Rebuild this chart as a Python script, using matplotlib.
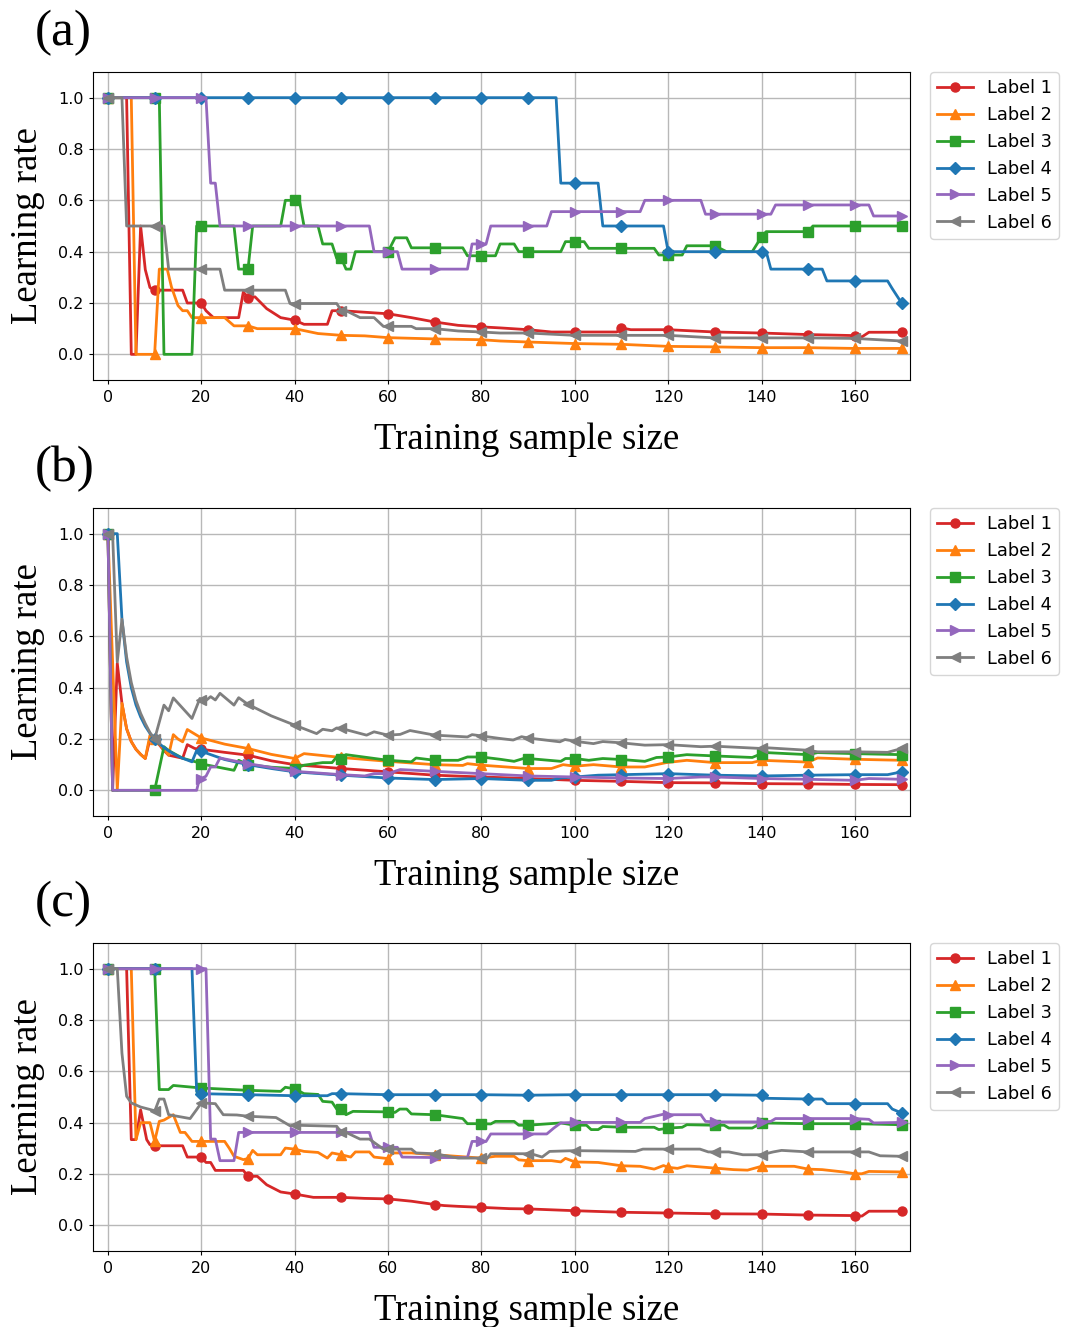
import matplotlib
matplotlib.use('Agg')
import matplotlib.pyplot as plt

# ---- data (breakpoints) ----
labels = ['Label 1', 'Label 2', 'Label 3', 'Label 4', 'Label 5', 'Label 6']

# panel (a)
a_x1 = [0, 4, 5, 6, 7, 8, 9, 10, 16, 17, 20, 21, 22.6, 28, 29, 30, 31.5, 34, 37, 40, 42, 47, 48, 50, 60, 65, 70, 75, 80, 84, 90, 95, 100, 109, 110, 112, 120, 130, 140, 150, 160, 161.5, 163, 170]
a_y1 = [1.0, 1.0, 0.0, 0.0, 0.5, 0.33, 0.26, 0.25, 0.25, 0.2, 0.2, 0.17, 0.143, 0.143, 0.243, 0.22, 0.224, 0.178, 0.143, 0.133, 0.117, 0.117, 0.17, 0.17, 0.158, 0.143, 0.126, 0.113, 0.107, 0.103, 0.096, 0.087, 0.087, 0.087, 0.103, 0.096, 0.096, 0.087, 0.083, 0.077, 0.073, 0.068, 0.086, 0.086]
a_x2 = [0, 5, 6, 10, 11, 12.7, 13.6, 15, 16, 17, 18, 20, 25, 27, 30, 32, 40, 45, 50, 55, 60, 70, 80, 84, 90, 100, 110, 120, 130, 140, 150, 160, 170]
a_y2 = [1.0, 1.0, 0.0, 0.0, 0.332, 0.332, 0.263, 0.19, 0.17, 0.17, 0.143, 0.143, 0.143, 0.111, 0.111, 0.1, 0.1, 0.081, 0.074, 0.072, 0.065, 0.06, 0.057, 0.052, 0.048, 0.042, 0.039, 0.031, 0.029, 0.026, 0.026, 0.023, 0.023]
a_x3 = [0, 10, 11, 12, 18, 19, 20, 27, 28, 30, 31, 37, 38, 40, 41, 42, 45, 46, 48, 49, 50, 51, 52, 53, 60, 61.5, 62.5, 64, 65, 70, 76, 77, 80, 83, 84, 87, 88, 90, 97, 98, 100, 102, 103, 110, 117, 118, 120, 123, 124, 130, 132.5, 138, 140, 141, 150, 151, 160, 170]
a_y3 = [1.0, 1.0, 1.0, 0.0, 0.0, 0.5, 0.5, 0.5, 0.332, 0.332, 0.5, 0.5, 0.6, 0.6, 0.6, 0.5, 0.5, 0.43, 0.43, 0.374, 0.374, 0.332, 0.332, 0.4, 0.4, 0.454, 0.454, 0.454, 0.415, 0.415, 0.415, 0.384, 0.384, 0.384, 0.43, 0.43, 0.4, 0.4, 0.4, 0.439, 0.439, 0.439, 0.413, 0.413, 0.413, 0.387, 0.387, 0.387, 0.423, 0.423, 0.4, 0.4, 0.458, 0.478, 0.478, 0.5, 0.5, 0.5]
a_x4 = [0, 10, 20, 30, 40, 50, 60, 70, 80, 90, 96, 97, 100, 105, 106, 110, 119, 120, 130, 140, 141, 142, 150, 153, 154, 160, 167, 168, 170]
a_y4 = [1.0, 1.0, 1.0, 1.0, 1.0, 1.0, 1.0, 1.0, 1.0, 1.0, 1.0, 0.667, 0.667, 0.667, 0.5, 0.5, 0.5, 0.4, 0.4, 0.4, 0.4, 0.332, 0.332, 0.332, 0.286, 0.286, 0.286, 0.256, 0.2]
a_x5 = [0, 10, 20, 21, 22, 23, 24, 30, 40, 50, 56, 57, 60, 62, 63, 70, 77, 78, 80, 81, 82, 90, 94, 95, 100, 110, 114, 115, 120, 127, 128, 130, 140, 142, 143, 150, 160, 163, 164, 170]
a_y5 = [1.0, 1.0, 1.0, 1.0, 0.667, 0.667, 0.5, 0.5, 0.5, 0.5, 0.5, 0.4, 0.4, 0.4, 0.332, 0.332, 0.332, 0.43, 0.43, 0.43, 0.5, 0.5, 0.5, 0.556, 0.556, 0.556, 0.556, 0.6, 0.6, 0.6, 0.546, 0.546, 0.546, 0.546, 0.582, 0.582, 0.582, 0.582, 0.539, 0.539]
a_x6 = [0, 3, 4, 10, 12, 13, 20, 24, 25, 30, 38, 39, 40, 49, 50, 51, 54, 57, 59, 60, 65, 66, 70, 75, 80, 84, 90, 100, 110, 120, 130, 140, 150, 160, 170]
a_y6 = [1.0, 1.0, 0.5, 0.5, 0.5, 0.332, 0.332, 0.332, 0.25, 0.25, 0.25, 0.198, 0.198, 0.198, 0.17, 0.17, 0.143, 0.143, 0.109, 0.109, 0.109, 0.1, 0.1, 0.091, 0.087, 0.083, 0.083, 0.074, 0.074, 0.074, 0.064, 0.064, 0.064, 0.062, 0.052]

# panel (b)
b_x1 = [0, 1, 2, 3, 4, 5, 6, 7, 8, 9, 10, 12, 13, 16, 17, 18.6, 20, 25, 30, 35, 40, 50, 60, 70, 80, 90, 100, 110, 120, 130, 140, 150, 160, 170]
b_y1 = [1.0, 0.0, 0.495, 0.339, 0.24, 0.19, 0.16, 0.14, 0.124, 0.2, 0.2, 0.155, 0.137, 0.125, 0.178, 0.163, 0.16, 0.148, 0.137, 0.115, 0.1, 0.085, 0.072, 0.059, 0.052, 0.046, 0.039, 0.035, 0.03, 0.029, 0.026, 0.025, 0.023, 0.022]
b_x2 = [0, 2, 3, 4, 5, 6, 7, 8, 9, 10, 11, 12, 13, 14, 15, 16, 17, 20, 25, 30, 35, 40, 42, 50, 60, 70, 76, 77, 80, 90, 95, 97.5, 100, 104, 110, 115, 119.6, 124, 130, 138, 140, 150, 152, 160, 170]
b_y2 = [1.0, 0.0, 0.339, 0.24, 0.19, 0.16, 0.14, 0.124, 0.215, 0.2, 0.18, 0.16, 0.137, 0.217, 0.2, 0.189, 0.237, 0.204, 0.18, 0.163, 0.14, 0.124, 0.143, 0.128, 0.113, 0.1, 0.097, 0.104, 0.098, 0.085, 0.085, 0.1, 0.094, 0.1, 0.091, 0.091, 0.108, 0.117, 0.108, 0.108, 0.117, 0.11, 0.126, 0.121, 0.117]
b_x3 = [0, 1, 10, 12, 13, 16, 18, 19, 20, 27, 28, 30, 35, 40, 42, 46, 48, 49, 50, 51, 60, 65, 66, 70, 75, 77, 80, 84, 87, 89, 90, 97, 98, 100, 103, 106, 110, 115, 117.5, 120, 124, 130, 138, 140, 141, 150, 152, 160, 170]
b_y3 = [1.0, 0.0, 0.0, 0.17, 0.155, 0.125, 0.115, 0.11, 0.103, 0.078, 0.117, 0.1, 0.09, 0.085, 0.098, 0.108, 0.108, 0.13, 0.121, 0.139, 0.117, 0.111, 0.126, 0.117, 0.117, 0.13, 0.13, 0.121, 0.113, 0.124, 0.124, 0.113, 0.124, 0.124, 0.117, 0.124, 0.12, 0.113, 0.128, 0.13, 0.139, 0.134, 0.128, 0.143, 0.147, 0.139, 0.147, 0.143, 0.139]
b_x4 = [0, 2, 3, 4, 5, 6, 7, 8, 9, 10, 11, 12, 13, 14, 15, 16, 17, 18, 19, 20, 25, 30, 35, 40, 50, 60, 70, 80, 90, 95, 97, 100, 105, 110, 120, 130, 140, 150, 160, 167, 170]
b_y4 = [1.0, 1.0, 0.667, 0.5, 0.4, 0.333, 0.286, 0.25, 0.222, 0.2, 0.182, 0.167, 0.154, 0.143, 0.133, 0.125, 0.118, 0.111, 0.155, 0.152, 0.12, 0.1, 0.085, 0.072, 0.059, 0.048, 0.042, 0.046, 0.039, 0.039, 0.048, 0.052, 0.059, 0.061, 0.065, 0.059, 0.056, 0.059, 0.061, 0.061, 0.072]
b_x5 = [0, 1, 19, 19.7, 20, 21, 22, 23, 24, 30, 40, 50, 55, 57, 60, 62.6, 70, 80, 90, 100, 110, 120, 127, 130, 140, 150, 160, 163, 170]
b_y5 = [1.0, 0.0, 0.0, 0.052, 0.046, 0.055, 0.091, 0.091, 0.126, 0.104, 0.074, 0.061, 0.056, 0.065, 0.065, 0.081, 0.074, 0.065, 0.056, 0.052, 0.048, 0.046, 0.052, 0.052, 0.046, 0.043, 0.039, 0.046, 0.043]
b_x6 = [0, 1, 2, 3, 4, 5, 6, 7, 8, 9, 10, 12, 13, 14, 18, 19.7, 20, 21, 22, 23, 24, 27, 28, 30, 35, 40, 44.7, 46, 48, 49, 50, 55.4, 57, 60, 62.6, 64.7, 70, 77, 78, 80, 84, 86.8, 88.6, 90, 96.8, 97.9, 100, 104, 106, 110, 115, 120, 127, 130, 140, 141, 150, 152, 160, 167, 170]
b_y6 = [1.0, 1.0, 0.5, 0.667, 0.52, 0.42, 0.35, 0.3, 0.26, 0.225, 0.2, 0.332, 0.31, 0.36, 0.28, 0.358, 0.352, 0.35, 0.365, 0.352, 0.378, 0.332, 0.361, 0.335, 0.29, 0.254, 0.221, 0.238, 0.232, 0.243, 0.241, 0.215, 0.228, 0.215, 0.218, 0.233, 0.215, 0.208, 0.217, 0.212, 0.202, 0.196, 0.209, 0.204, 0.189, 0.198, 0.191, 0.182, 0.19, 0.185, 0.176, 0.178, 0.17, 0.172, 0.163, 0.166, 0.156, 0.15, 0.15, 0.148, 0.163]

# panel (c)
c_x1 = [0, 4, 5, 6, 7, 8.3, 9, 10, 16, 17, 20, 21, 22, 23, 29, 30, 32, 34, 37, 40, 44, 50, 55, 60, 65, 70, 72, 75, 80, 86, 90, 100, 110, 120, 130, 140, 150, 160, 161.5, 163, 170]
c_y1 = [1.0, 1.0, 0.334, 0.334, 0.45, 0.334, 0.314, 0.31, 0.31, 0.266, 0.266, 0.245, 0.245, 0.214, 0.214, 0.191, 0.191, 0.158, 0.13, 0.122, 0.109, 0.109, 0.105, 0.103, 0.094, 0.081, 0.077, 0.074, 0.07, 0.065, 0.064, 0.057, 0.051, 0.048, 0.045, 0.044, 0.04, 0.038, 0.036, 0.055, 0.055]
c_x2 = [0, 5, 6, 7, 9, 10, 11, 12, 14, 15.5, 16.5, 18, 20, 25, 26, 27, 29, 30, 31, 32, 37, 38, 40, 42, 45, 47, 48, 50, 52, 53, 56, 57, 60, 61, 65, 70, 80, 83, 87, 88, 90, 95, 97, 98, 100, 105, 110, 114, 117, 119, 120, 122, 124, 130, 134, 137, 140, 147, 150, 153, 157.5, 160, 161.5, 163, 170]
c_y2 = [1.0, 1.0, 0.334, 0.4, 0.4, 0.327, 0.405, 0.41, 0.431, 0.362, 0.362, 0.327, 0.327, 0.327, 0.3, 0.269, 0.256, 0.26, 0.292, 0.275, 0.275, 0.301, 0.297, 0.288, 0.284, 0.262, 0.282, 0.275, 0.266, 0.286, 0.286, 0.266, 0.26, 0.282, 0.282, 0.275, 0.262, 0.269, 0.269, 0.255, 0.252, 0.252, 0.247, 0.261, 0.247, 0.245, 0.232, 0.23, 0.219, 0.233, 0.226, 0.222, 0.232, 0.223, 0.217, 0.215, 0.23, 0.23, 0.219, 0.217, 0.208, 0.201, 0.201, 0.21, 0.208]
c_x3 = [0, 10, 11, 13, 14, 20, 30, 37, 38, 40, 42, 45, 46, 48, 49, 50, 51, 52.5, 60, 61.5, 62.5, 64, 65, 70, 76, 77, 80, 82, 83, 87, 88, 90, 97, 100, 102.5, 103.5, 105, 106, 110, 117, 118, 120, 123, 124, 130, 132, 133, 138, 140, 150, 160, 170]
c_y3 = [1.0, 1.0, 0.529, 0.529, 0.545, 0.535, 0.526, 0.522, 0.538, 0.532, 0.513, 0.51, 0.483, 0.48, 0.453, 0.453, 0.431, 0.444, 0.442, 0.44, 0.453, 0.453, 0.434, 0.431, 0.416, 0.396, 0.396, 0.395, 0.405, 0.405, 0.39, 0.39, 0.399, 0.39, 0.39, 0.373, 0.373, 0.385, 0.382, 0.382, 0.373, 0.379, 0.382, 0.392, 0.39, 0.39, 0.379, 0.379, 0.399, 0.396, 0.396, 0.392]
c_x4 = [0, 10, 18, 19, 20, 30, 40, 47, 48, 50, 60, 70, 80, 90, 100, 110, 120, 130, 140, 141, 150, 153, 154, 160, 167, 168, 170]
c_y4 = [1.0, 1.0, 1.0, 0.522, 0.513, 0.509, 0.505, 0.505, 0.513, 0.513, 0.509, 0.509, 0.509, 0.507, 0.509, 0.509, 0.509, 0.509, 0.507, 0.495, 0.492, 0.492, 0.474, 0.474, 0.474, 0.453, 0.438]
c_x5 = [0, 10, 20, 21, 22, 23, 24, 27, 28, 30, 40, 50, 56, 57, 60, 62, 63, 70, 77, 78, 80, 81, 82, 90, 94, 95.5, 97, 100, 110, 114, 115, 119, 120, 127, 128, 130, 140, 142, 143, 150, 160, 163, 164, 170]
c_y5 = [1.0, 1.0, 1.0, 1.0, 0.336, 0.336, 0.252, 0.252, 0.362, 0.362, 0.362, 0.362, 0.362, 0.304, 0.304, 0.304, 0.266, 0.264, 0.264, 0.327, 0.327, 0.327, 0.356, 0.356, 0.356, 0.379, 0.399, 0.401, 0.401, 0.401, 0.416, 0.433, 0.431, 0.431, 0.405, 0.403, 0.403, 0.405, 0.416, 0.416, 0.416, 0.413, 0.399, 0.401]
c_x6 = [0, 2, 3, 4, 5, 7, 9.7, 10, 11, 12, 13, 17.6, 19, 20, 23, 24.7, 27.6, 30, 36, 39, 40, 49, 50, 51, 54, 56, 59, 60, 65, 66, 70, 75, 80, 81, 82, 90, 91, 93, 94.6, 100, 113, 114.6, 120, 126.8, 128.6, 130, 133, 136, 140, 142.5, 144.3, 150, 160, 163, 165.4, 170]
c_y6 = [1.0, 1.0, 0.671, 0.503, 0.477, 0.461, 0.448, 0.444, 0.492, 0.492, 0.431, 0.416, 0.451, 0.477, 0.474, 0.431, 0.43, 0.425, 0.42, 0.388, 0.39, 0.386, 0.362, 0.362, 0.336, 0.336, 0.297, 0.297, 0.297, 0.282, 0.279, 0.262, 0.262, 0.256, 0.279, 0.279, 0.277, 0.266, 0.288, 0.291, 0.288, 0.297, 0.297, 0.297, 0.286, 0.286, 0.286, 0.275, 0.275, 0.286, 0.292, 0.286, 0.286, 0.286, 0.271, 0.269]

# ---- style ----
colors = ['tab:red', 'tab:orange', 'tab:green', 'tab:blue', 'tab:purple', 'tab:gray']
markers = ['o', '^', 's', 'D', '>', '<']
serif = 'Liberation Serif'

W, H = 1073, 1327


def draw_panel(fig, top_px, xs_list, ys_list, tag):
    bottom_px = top_px + 308
    ax = fig.add_axes([93 / W, 1 - bottom_px / H, 817 / W, 308 / H])
    for xs, ys, lab, c, m in zip(xs_list, ys_list, labels, colors, markers):
        marks = [i for i, v in enumerate(xs) if v % 10 == 0]
        ax.plot(xs, ys, color=c, marker=m, markevery=marks, lw=2, ms=6.5, label=lab)
    ax.set_xlim(-3.2, 171.8)
    ax.set_ylim(-0.1, 1.1)
    ax.set_xticks(range(0, 161, 20))
    ax.set_yticks([0.0, 0.2, 0.4, 0.6, 0.8, 1.0])
    ax.set_yticklabels(['0.0', '0.2', '0.4', '0.6', '0.8', '1.0'])
    ax.tick_params(labelsize=11.5, length=3, pad=4)
    ax.grid(True, color='#b8b8b8', lw=1)
    ax.legend(loc='upper left', bbox_to_anchor=(1.0245, 1.0), borderaxespad=0,
              fontsize=12.8)
    # panel tag, axis titles
    fig.text(35 / W, 1 - (top_px - 27) / H, tag, family=serif, fontsize=37,
             ha='left', va='baseline')
    fig.text(527 / W, 1 - (bottom_px + 60) / H, 'Training sample size',
             family=serif, fontsize=26.5, ha='center', va='center')
    fig.text(28 / W, 1 - (top_px + 154) / H, 'Learning rate', family=serif,
             fontsize=26.5, rotation=90, ha='center', va='center')
    return ax


fig = plt.figure(figsize=(W / 100, H / 100), dpi=100)
draw_panel(fig, 72, [a_x1, a_x2, a_x3, a_x4, a_x5, a_x6],
           [a_y1, a_y2, a_y3, a_y4, a_y5, a_y6], '(a)')
draw_panel(fig, 508, [b_x1, b_x2, b_x3, b_x4, b_x5, b_x6],
           [b_y1, b_y2, b_y3, b_y4, b_y5, b_y6], '(b)')
draw_panel(fig, 943, [c_x1, c_x2, c_x3, c_x4, c_x5, c_x6],
           [c_y1, c_y2, c_y3, c_y4, c_y5, c_y6], '(c)')
fig.savefig('out.png', dpi=100)
